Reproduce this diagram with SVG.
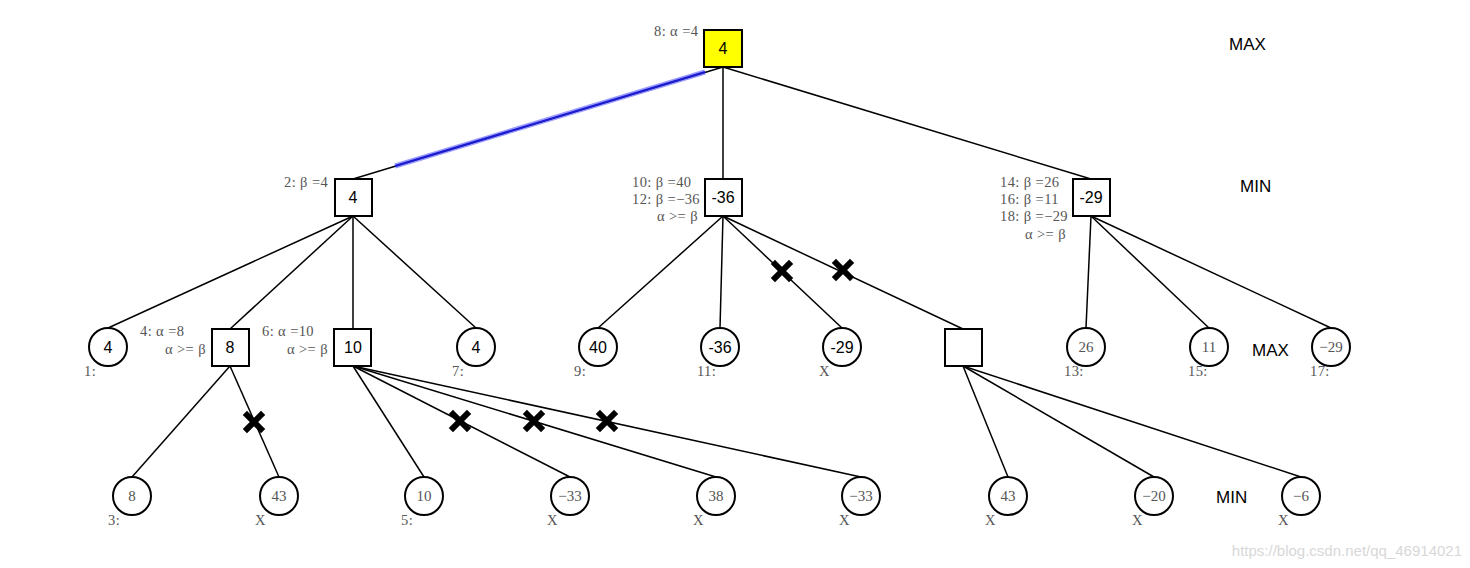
<svg xmlns="http://www.w3.org/2000/svg" width="1470" height="568" viewBox="0 0 1470 568">
<style>
.sq{fill:#fff;stroke:#000;stroke-width:2}
.ci{fill:#fff;stroke:#000;stroke-width:2}
.e{stroke:#000;stroke-width:1.5;fill:none}
.v{font-family:"Liberation Sans",Arial,sans-serif;font-size:16px;fill:#000;text-anchor:middle}
.vs{font-family:"Liberation Serif","DejaVu Serif",serif;font-size:15px;fill:#555;text-anchor:middle}
.lb{font-family:"Liberation Serif","DejaVu Serif",serif;font-size:14.5px;letter-spacing:0.4px;fill:#555}
.lv{font-family:"Liberation Sans",Arial,sans-serif;font-size:17px;fill:#000}
.x{stroke:#000;stroke-width:6;stroke-linecap:square}
</style>
<rect width="1470" height="568" fill="#fff"/>
<g id="edges">
<line class="e" x1="723" y1="67" x2="353" y2="179"/>
<line x1="395" y1="166" x2="705" y2="72" stroke="#5a5aff" stroke-width="5" opacity="0.6"/>
<line x1="395" y1="166" x2="705" y2="72" stroke="#1a1ad0" stroke-width="2"/>
<line class="e" x1="723" y1="67" x2="723" y2="179"/>
<line class="e" x1="723" y1="67" x2="1091" y2="179"/>
<line class="e" x1="353" y1="216" x2="108" y2="328"/>
<line class="e" x1="353" y1="216" x2="230" y2="329"/>
<line class="e" x1="353" y1="216" x2="353" y2="329"/>
<line class="e" x1="353" y1="216" x2="476" y2="328"/>
<line class="e" x1="723" y1="216" x2="598" y2="328"/>
<line class="e" x1="723" y1="216" x2="720" y2="328"/>
<line class="e" x1="723" y1="216" x2="842" y2="328"/>
<line class="e" x1="723" y1="216" x2="963" y2="329"/>
<line class="e" x1="1091" y1="216" x2="1086" y2="328"/>
<line class="e" x1="1091" y1="216" x2="1209" y2="328"/>
<line class="e" x1="1091" y1="216" x2="1331" y2="328"/>
<line class="e" x1="230" y1="366" x2="132" y2="477"/>
<line class="e" x1="230" y1="366" x2="279" y2="477"/>
<line class="e" x1="353" y1="366" x2="424" y2="477"/>
<line class="e" x1="353" y1="366" x2="570" y2="477"/>
<line class="e" x1="353" y1="366" x2="716" y2="477"/>
<line class="e" x1="353" y1="366" x2="861" y2="477"/>
<line class="e" x1="963" y1="366" x2="1008" y2="477"/>
<line class="e" x1="963" y1="366" x2="1154" y2="477"/>
<line class="e" x1="963" y1="366" x2="1301" y2="477"/>
</g>
<g id="cuts">
<path class="x" d="M775 264L789 278M789 264L775 278"/>
<path class="x" d="M836 263L850 277M850 263L836 277"/>
<path class="x" d="M247 415L261 429M261 415L247 429"/>
<path class="x" d="M453 414L467 428M467 414L453 428"/>
<path class="x" d="M527 414L541 428M541 414L527 428"/>
<path class="x" d="M600 414L614 428M614 414L600 428"/>
</g>
<g id="root">
<rect x="704" y="30" width="38" height="37" fill="#ffff00" stroke="#000" stroke-width="2"/>
<text class="v" x="723" y="54">4</text>
<text class="lb" x="654" y="36">8: α =4</text>
</g>
<g id="n2">
<rect class="sq" x="335" y="179" width="37" height="37"/>
<text class="v" x="353" y="203">4</text>
<text class="lb" x="284" y="187">2: β =4</text>
</g>
<g id="n10">
<rect class="sq" x="705" y="179" width="37" height="37"/>
<text class="v" x="723" y="203">-36</text>
<text class="lb" x="632" y="187">10: β =40</text>
<text class="lb" x="632" y="204">12: β =−36</text>
<text class="lb" x="657" y="221">α &gt;= β</text>
</g>
<g id="n14">
<rect class="sq" x="1073" y="179" width="37" height="37"/>
<text class="v" x="1091" y="203">-29</text>
<text class="lb" x="1000" y="187">14: β =26</text>
<text class="lb" x="1000" y="204">16: β =11</text>
<text class="lb" x="1000" y="221">18: β =−29</text>
<text class="lb" x="1025" y="239">α &gt;= β</text>
</g>
<g id="n1">
<circle class="ci" cx="108" cy="347" r="19"/>
<text class="v" x="108" y="353">4</text>
<text class="lb" x="84" y="376">1:</text>
</g>
<g id="n4">
<rect class="sq" x="212" y="329" width="37" height="37"/>
<text class="v" x="230" y="353">8</text>
<text class="lb" x="140" y="336">4: α =8</text>
<text class="lb" x="165" y="354">α &gt;= β</text>
</g>
<g id="n6">
<rect class="sq" x="334" y="329" width="37" height="37"/>
<text class="v" x="353" y="353">10</text>
<text class="lb" x="262" y="336">6: α =10</text>
<text class="lb" x="287" y="354">α &gt;= β</text>
</g>
<g id="n7">
<circle class="ci" cx="476" cy="347" r="19"/>
<text class="v" x="476" y="353">4</text>
<text class="lb" x="452" y="376">7:</text>
</g>
<g id="n9">
<circle class="ci" cx="598" cy="347" r="19"/>
<text class="v" x="598" y="353">40</text>
<text class="lb" x="574" y="376">9:</text>
</g>
<g id="n11">
<circle class="ci" cx="720" cy="347" r="19"/>
<text class="v" x="720" y="353">-36</text>
<text class="lb" x="697" y="376">11:</text>
</g>
<g id="nm29">
<circle class="ci" cx="842" cy="347" r="19"/>
<text class="v" x="842" y="353">-29</text>
<text class="lb" x="819" y="376">X</text>
</g>
<g id="nempty">
<rect class="sq" x="945" y="329" width="37" height="37"/>
</g>
<g id="n13">
<circle class="ci" cx="1086" cy="347" r="19"/>
<text class="vs" x="1086" y="352">26</text>
<text class="lb" x="1064" y="376">13:</text>
</g>
<g id="n15">
<circle class="ci" cx="1209" cy="347" r="19"/>
<text class="vs" x="1209" y="352">11</text>
<text class="lb" x="1188" y="376">15:</text>
</g>
<g id="n17">
<circle class="ci" cx="1331" cy="347" r="19"/>
<text class="vs" x="1331" y="352">−29</text>
<text class="lb" x="1310" y="376">17:</text>
</g>
<g id="n3">
<circle class="ci" cx="132" cy="496" r="19"/>
<text class="vs" x="132" y="501">8</text>
<text class="lb" x="108" y="525">3:</text>
</g>
<g id="n43a">
<circle class="ci" cx="279" cy="496" r="19"/>
<text class="vs" x="279" y="501">43</text>
<text class="lb" x="255" y="525">X</text>
</g>
<g id="n5">
<circle class="ci" cx="424" cy="496" r="19"/>
<text class="vs" x="424" y="501">10</text>
<text class="lb" x="401" y="525">5:</text>
</g>
<g id="nm33a">
<circle class="ci" cx="570" cy="496" r="19"/>
<text class="vs" x="570" y="501">−33</text>
<text class="lb" x="547" y="525">X</text>
</g>
<g id="n38">
<circle class="ci" cx="716" cy="496" r="19"/>
<text class="vs" x="716" y="501">38</text>
<text class="lb" x="693" y="525">X</text>
</g>
<g id="nm33b">
<circle class="ci" cx="861" cy="496" r="19"/>
<text class="vs" x="861" y="501">−33</text>
<text class="lb" x="839" y="525">X</text>
</g>
<g id="n43b">
<circle class="ci" cx="1008" cy="496" r="19"/>
<text class="vs" x="1008" y="501">43</text>
<text class="lb" x="985" y="525">X</text>
</g>
<g id="nm20">
<circle class="ci" cx="1154" cy="496" r="19"/>
<text class="vs" x="1154" y="501">−20</text>
<text class="lb" x="1132" y="525">X</text>
</g>
<g id="nm6">
<circle class="ci" cx="1301" cy="496" r="19"/>
<text class="vs" x="1301" y="501">−6</text>
<text class="lb" x="1278" y="525">X</text>
</g>
<g id="levels">
<text class="lv" x="1229" y="50">MAX</text>
<text class="lv" x="1240" y="192">MIN</text>
<text class="lv" x="1252" y="356">MAX</text>
<text class="lv" x="1216" y="503">MIN</text>
</g>
<text x="1462" y="556" text-anchor="end" font-family="'Liberation Sans',Arial,sans-serif" font-size="15" fill="#d8d8d8">https://blog.csdn.net/qq_46914021</text>
</svg>
